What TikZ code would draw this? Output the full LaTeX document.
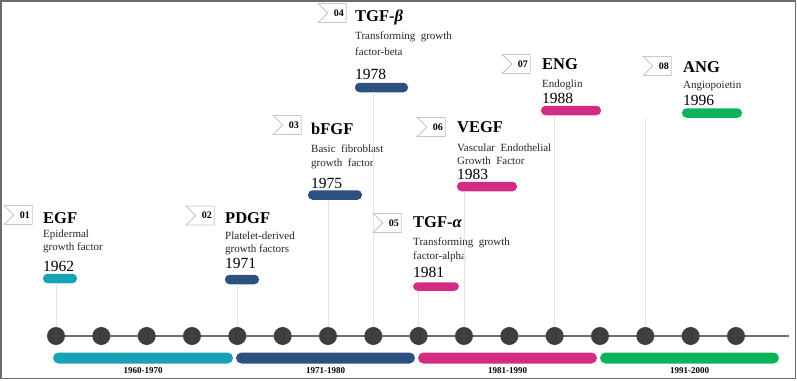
\documentclass[tikz,border=0pt]{standalone}
\usepackage{fontspec}
\setmainfont{Liberation Serif}
\usetikzlibrary{shapes.symbols}
\definecolor{cteal}{HTML}{17A2B6}
\definecolor{cblue}{HTML}{2C5080}
\definecolor{cpink}{HTML}{D42B84}
\definecolor{cgreen}{HTML}{0DB35B}
\definecolor{cdot}{HTML}{3F3F3F}
\definecolor{caxis}{HTML}{6E6E6E}
\definecolor{cvline}{HTML}{E4E4E4}
\definecolor{cflag}{HTML}{C6C6C6}
\definecolor{cframe}{HTML}{6A6A6A}
\tikzset{
  flagbox/.style={signal, signal from=west, signal to=nowhere, draw=cflag, fill=white,
    line width=0.8pt, minimum width=28pt, minimum height=19pt, inner sep=0pt},
  flagnum/.style={anchor=east, inner sep=0pt, font=\fontsize{10}{11}\selectfont\bfseries},
  titletext/.style={anchor=base west, inner sep=0pt, font=\fontsize{16.5}{18}\selectfont\bfseries},
  desctext/.style={anchor=base west, inner sep=0pt, font=\fontsize{11}{12}\selectfont, text=black!85},
  yeartext/.style={anchor=base west, inner sep=0pt, font=\fontsize{15.5}{17}\selectfont},
  bar/.style={rectangle, rounded corners=4.5pt, fill=#1, draw=none, inner sep=0pt, minimum height=9.5pt},
  dot/.style={circle, fill=cdot, draw=none, inner sep=0pt, minimum size=18pt},
  vline/.style={draw=cvline, line width=0.8pt},
  period/.style={rectangle, rounded corners=5.5pt, fill=#1, draw=none, inner sep=0pt, minimum height=11pt},
  periodtext/.style={anchor=base, inner sep=0pt, font=\fontsize{9}{10}\selectfont\bfseries},
}
\begin{document}
\begin{tikzpicture}[x=1pt,y=-1pt]
\useasboundingbox (0,0) rectangle (797,380);
\draw[cframe, line width=1.3pt] (1,1) rectangle (795.5,378.5);

% axis
\coordinate (axL) at (47,336);
\coordinate (axR) at (789,336);
\draw[caxis, line width=1.4pt] (axL) -- (axR);
\foreach \i in {1,...,16} {
  \node[dot] (c\i) at ({56+45.33*(\i-1)},336) {};
}

% periods
\node[period=cteal]  (p1) at (143,358) [minimum width=180pt] {};
\node[period=cblue]  (p2) at (325.5,358) [minimum width=179pt] {};
\node[period=cpink]  (p3) at (507.5,358) [minimum width=179pt] {};
\node[period=cgreen] (p4) at (689.5,358) [minimum width=179pt] {};
\node[periodtext] (pl1) at (143,373) {1960-1970};
\node[periodtext] (pl2) at (325.5,373) {1971-1980};
\node[periodtext] (pl3) at (507.5,373) {1981-1990};
\node[periodtext] (pl4) at (689.5,373) {1991-2000};

% 01 EGF
\node[flagbox] (f1) at (23,215) {};
\node[flagnum] (n1) at ([xshift=-2.5pt]f1.east) {01};
\node[titletext] (t1) at (43,223) {EGF};
\node[desctext] (d1a) at (43,237) {Epidermal};
\node[desctext] (d1b) at (43,250) {growth factor};
\node[yeartext] (y1) at (43,271) {1962};
\node[bar=cteal] (b1) at (60,278.5) [minimum width=34pt] {};
\draw[vline] (b1.south -| c1) -- (c1.north);

% 02 PDGF
\node[flagbox] (f2) at (205,215.5) {};
\node[flagnum] (n2) at ([xshift=-2.5pt]f2.east) {02};
\node[titletext] (t2) at (225,223) {PDGF};
\node[desctext] (d2a) at (225,239) {Platelet-derived};
\node[desctext] (d2b) at (225,252) {growth factors};
\node[yeartext] (y2) at (225,268) {1971};
\node[bar=cblue] (b2) at (242,279.5) [minimum width=34pt] {};
\draw[vline] (b2.south -| c5) -- (c5.north);

% 03 bFGF
\node[flagbox] (f3) at (292,125) {};
\node[flagnum] (n3) at ([xshift=-2.5pt]f3.east) {03};
\node[titletext] (t3) at (311,134) {bFGF};
\node[desctext] (d3a) at (311,152) {Basic\ \ fibroblast};
\node[desctext] (d3b) at (311,166) {growth\ \ factor};
\node[yeartext] (y3) at (311,188) {1975};
\node[bar=cblue] (b3) at (335,195) [minimum width=54pt] {};
\draw[vline] (b3.south -| c7) -- (c7.north);

% 04 TGF-beta
\node[flagbox] (f4) at (337,13) {};
\node[flagnum] (n4) at ([xshift=-2.5pt]f4.east) {04};
\node[titletext] (t4) at (355,21) {TGF-\textit{β}};
\node[desctext] (d4a) at (355,39) {Transforming\ \ growth};
\node[desctext] (d4b) at (355,55) {factor-beta};
\node[yeartext] (y4) at (355,79) {1978};
\node[bar=cblue] (b4) at (381.5,87.5) [minimum width=53pt] {};
\draw[vline] (b4.south -| c8) -- (c8.north);

% 05 TGF-alpha
\node[flagbox] (f5) at (392,223) {};
\node[flagnum] (n5) at ([xshift=-2.5pt]f5.east) {05};
\node[titletext] (t5) at (413,227) {TGF-\textit{α}};
\node[desctext] (d5a) at (413,245) {Transforming\ \ growth};
\node[desctext] (d5b) at (413,259) {factor-alpha};
\node[yeartext] (y5) at (413,277) {1981};
\node[bar=cpink] (b5) at (436,286.5) [minimum width=46pt, minimum height=8.5pt] {};
\draw[vline] (b5.south -| c9) -- (c9.north);

% 06 VEGF
\node[flagbox] (f6) at (436,127) {};
\node[flagnum] (n6) at ([xshift=-2.5pt]f6.east) {06};
\node[titletext] (t6) at (457,132) {VEGF};
\node[desctext] (d6a) at (457,151) {Vascular\ \ Endothelial};
\node[desctext] (d6b) at (457,164) {Growth\ \ Factor};
\node[yeartext] (y6) at (457,179) {1983};
\node[bar=cpink] (b6) at (487,186.5) [minimum width=60pt] {};
\draw[vline] (b6.south -| c10) -- (c10.north);

% 07 ENG
\node[flagbox] (f7) at (521,64) {};
\node[flagnum] (n7) at ([xshift=-2.5pt]f7.east) {07};
\node[titletext] (t7) at (542,69) {ENG};
\node[desctext] (d7a) at (542,87) {Endoglin};
\node[yeartext] (y7) at (542,103) {1988};
\node[bar=cpink] (b7) at (571,110.5) [minimum width=60pt] {};
\draw[vline] (b7.south -| c12) -- (c12.north);

% 08 ANG
\node[flagbox] (f8) at (662,66) {};
\node[flagnum] (n8) at ([xshift=-2.5pt]f8.east) {08};
\node[titletext] (t8) at (683,72) {ANG};
\node[desctext] (d8a) at (683,88) {Angiopoietin};
\node[yeartext] (y8) at (683,105) {1996};
\node[bar=cgreen] (b8) at (712,113) [minimum width=60pt] {};
\draw[vline] (b8.south -| c14) -- (c14.north);
\end{tikzpicture}
\end{document}
